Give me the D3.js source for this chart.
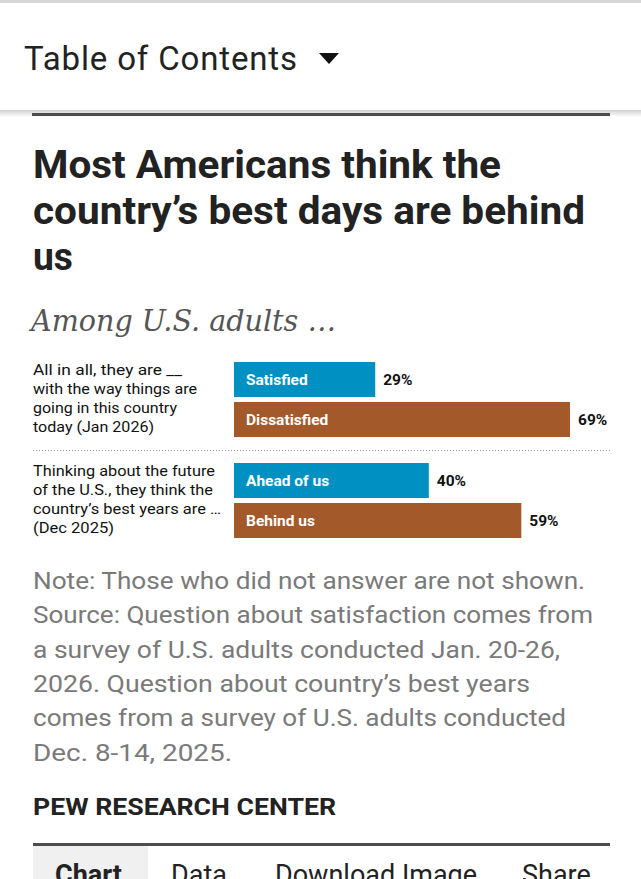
<!DOCTYPE html>
<html>
<head>
<meta charset="utf-8">
<script src="https://cdn.jsdelivr.net/npm/d3@7"></script>
<style>
  html, body { margin: 0; padding: 0; background: #fff; overflow: hidden; }
  svg { display: block; }
</style>
</head>
<body>
<div id="chart"></div>
<script>
// chart data
let questions = [
    ["All in all, they are __", "with the way things are", "going in this country", "today (Jan 2026)"],
    ["Thinking about the future", "of the U.S., they think the", "country\u2019s best years are \u2026", "(Dec 2025)"]
];
let answers = [["Satisfied", "Dissatisfied"], ["Ahead of us", "Behind us"]];
let values = [[29, 69], [40, 59]];
let answerColors = ["#0091c2", "#a3592a"];

let titleLines = ["Most Americans think the", "country\u2019s best days are behind", "us"];
let subtitle = "Among U.S. adults \u2026";
let noteLines = [
    "Note: Those who did not answer are not shown.",
    "Source: Question about satisfaction comes from",
    "a survey of U.S. adults conducted Jan. 20-26,",
    "2026. Question about country\u2019s best years",
    "comes from a survey of U.S. adults conducted",
    "Dec. 8-14, 2025."
];
let tabs = ["Chart", "Data", "Download Image", "Share"];

let width = 641;
let height = 879;
let left = 33;
let right = 610;

let svg = d3.select("#chart").append("svg")
    .attr("width", width)
    .attr("height", height);

let defs = svg.append("defs");
let grad = defs.append("linearGradient")
    .attr("id", "shadow")
    .attr("x1", 0).attr("y1", 0).attr("x2", 0).attr("y2", 1);
grad.append("stop").attr("offset", "0%").attr("stop-color", "#000").attr("stop-opacity", 0.18);
grad.append("stop").attr("offset", "100%").attr("stop-color", "#000").attr("stop-opacity", 0);

//top strip + header
svg.append("rect").attr("x", 0).attr("y", 0).attr("width", width).attr("height", 3).attr("fill", "#d6d6d6");
svg.append("rect").attr("x", 0).attr("y", 110).attr("width", width).attr("height", 7).attr("fill", "url(#shadow)");

svg.append("text")
    .attr("x", 24).attr("y", 70)
    .attr("font-family", "Roboto, sans-serif")
    .attr("font-size", 33)
    .attr("fill", "#222")
    .attr("textLength", 273)
    .text("Table of Contents");

svg.append("path")
    .attr("d", "M319,53 L339,53 L329,64 Z")
    .attr("fill", "#111");

svg.append("rect").attr("x", left - 1).attr("y", 113).attr("width", right - left + 1).attr("height", 3).attr("fill", "#4d4d4d");

//title
let titleWidths = [468, 552, 40];
svg.append("g").selectAll("text")
    .data(titleLines)
    .join("text")
    .attr("x", left)
    .attr("y", (d, i) => 178 + i * 46)
    .attr("font-family", "Roboto, sans-serif")
    .attr("font-weight", 700)
    .attr("font-size", 39)
    .attr("fill", "#222")
    .attr("textLength", (d, i) => titleWidths[i])
    .attr("lengthAdjust", "spacingAndGlyphs")
    .text(d => d);

svg.append("text")
    .attr("x", 31).attr("y", 331)
    .attr("font-family", "'DejaVu Serif', 'Liberation Serif', serif")
    .attr("font-style", "italic")
    .attr("font-size", 29)
    .attr("fill", "#555")
    .attr("textLength", 305)
    .attr("lengthAdjust", "spacingAndGlyphs")
    .text(subtitle);

//scales
let x = d3.scaleLinear().domain([0, 100]).range([234, 234 + 487]);
let yGroup = d3.scaleBand().domain(d3.range(questions.length)).range([362, 538]).paddingInner(0.2574);
let yBar = d3.scaleBand().domain([0, 1]).range([0, yGroup.bandwidth()]).paddingInner(0.125);

let groups = svg.append("g").selectAll("g")
    .data(questions)
    .join("g")
    .attr("transform", (d, i) => `translate(0,${yGroup(i)})`);

//question labels
let qWidths = [[149, 164, 144, 121], [182, 180, 188, 81]];
groups.selectAll("text.q")
    .data((d, gi) => d.map((t, i) => ({ t: t, w: qWidths[gi][i] })))
    .join("text")
    .attr("class", "q")
    .attr("x", left)
    .attr("y", (d, i) => 13 + i * 19)
    .attr("font-family", "Roboto, sans-serif")
    .attr("font-size", 15)
    .attr("fill", "#111")
    .attr("textLength", d => d.w)
    .attr("lengthAdjust", "spacingAndGlyphs")
    .text(d => d.t);

let bars = groups.selectAll("g.bar")
    .data((d, gi) => values[gi].map((v, i) => ({ v: v, i: i, label: answers[gi][i] })))
    .join("g")
    .attr("class", "bar")
    .attr("transform", d => `translate(0,${yBar(d.i)})`);

bars.append("rect")
    .attr("x", x(0))
    .attr("y", 0)
    .attr("width", d => x(d.v) - x(0))
    .attr("height", yBar.bandwidth())
    .attr("fill", d => answerColors[d.i]);

bars.append("text")
    .attr("x", x(0) + 12)
    .attr("y", yBar.bandwidth() / 2 + 5.5)
    .attr("font-family", "Roboto, sans-serif")
    .attr("font-weight", 700)
    .attr("font-size", 15.5)
    .attr("fill", "#fff")
    .text(d => d.label);

bars.append("text")
    .attr("x", d => x(d.v) + 8)
    .attr("y", yBar.bandwidth() / 2 + 5.5)
    .attr("font-family", "Roboto, sans-serif")
    .attr("font-weight", 700)
    .attr("font-size", 15.5)
    .attr("fill", "#111")
    .text(d => d.v + "%");

//dotted separator
svg.append("line")
    .attr("x1", left).attr("x2", right)
    .attr("y1", 450.5).attr("y2", 450.5)
    .attr("stroke", "#999")
    .attr("stroke-width", 1)
    .attr("stroke-dasharray", "1,2");

//note
let noteWidths = [552, 560, 527, 497, 533, 199];
svg.append("g").selectAll("text")
    .data(noteLines)
    .join("text")
    .attr("x", left)
    .attr("y", (d, i) => 589 + i * 34.3)
    .attr("font-family", "Roboto, sans-serif")
    .attr("font-size", 24)
    .attr("fill", "#7a7a7a")
    .attr("textLength", (d, i) => noteWidths[i])
    .attr("lengthAdjust", "spacingAndGlyphs")
    .text(d => d);

svg.append("text")
    .attr("x", left).attr("y", 815)
    .attr("font-family", "Roboto, sans-serif")
    .attr("font-weight", 700)
    .attr("font-size", 24)
    .attr("fill", "#222")
    .attr("textLength", 303)
    .attr("lengthAdjust", "spacingAndGlyphs")
    .text("PEW RESEARCH CENTER");

//tabs (cut off by the bottom edge, as in the page screenshot)
svg.append("rect").attr("x", left).attr("y", 843).attr("width", right - left).attr("height", 3).attr("fill", "#4d4d4d");
svg.append("rect").attr("x", left).attr("y", 846).attr("width", 115).attr("height", 40).attr("fill", "#f0f0f0");

let tabX = [55, 171, 275, 522];
svg.append("g").selectAll("text")
    .data(tabs)
    .join("text")
    .attr("x", (d, i) => tabX[i])
    .attr("y", 884)
    .attr("font-family", "Roboto, sans-serif")
    .attr("font-weight", (d, i) => i === 0 ? 700 : 400)
    .attr("font-size", 27)
    .attr("fill", "#222")
    .text(d => d);
</script>
</body>
</html>
